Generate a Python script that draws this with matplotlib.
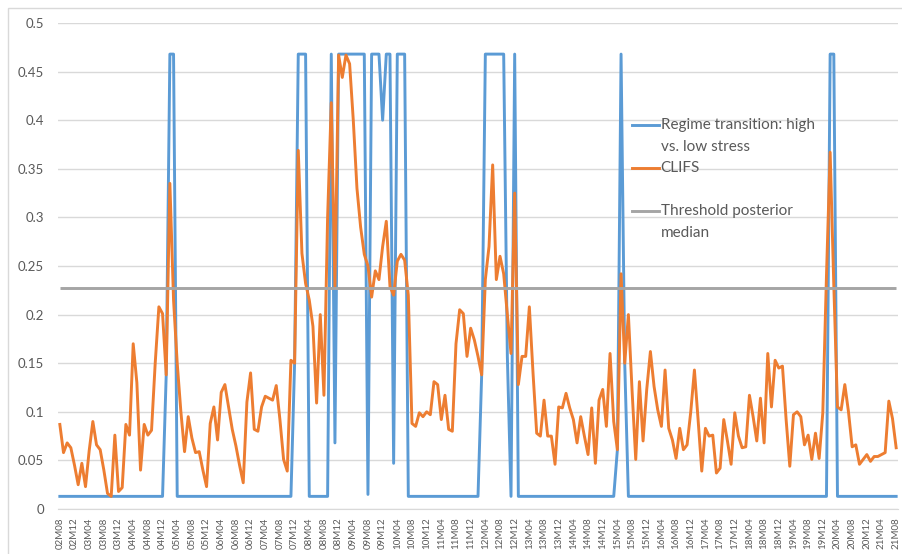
import matplotlib
matplotlib.use("Agg")
import matplotlib.pyplot as plt
from matplotlib.lines import Line2D
from matplotlib.legend_handler import HandlerLine2D
from matplotlib.patches import Rectangle

plt.rcParams['font.family'] = ['Lato', 'DejaVu Sans']

# monthly observations 2002M08 .. 2021M08, labelled every 4th month
tick_labels = [
    "02M08", "02M12",
    "03M04", "03M08", "03M12", "04M04", "04M08", "04M12", "05M04", "05M08", "05M12",
    "06M04", "06M08", "06M12", "07M04", "07M08", "07M12", "08M04", "08M08", "08M12",
    "09M04", "09M08", "09M12", "10M04", "10M08", "10M12", "11M04", "11M08", "11M12",
    "12M04", "12M08", "12M12", "13M04", "13M08", "13M12", "14M04", "14M08", "14M12",
    "15M04", "15M08", "15M12", "16M04", "16M08", "16M12", "17M04", "17M08", "17M12",
    "18M04", "18M08", "18M12", "19M04", "19M08", "19M12", "20M04", "20M08", "20M12",
    "21M04", "21M08",
]

clifs = [
    0.087, 0.058, 0.068, 0.063, 0.045, 0.025, 0.047, 0.023, 0.060, 0.090,
    0.066, 0.061, 0.040, 0.016, 0.013, 0.076, 0.018, 0.022, 0.087, 0.076,
    0.170, 0.130, 0.040, 0.087, 0.076, 0.081, 0.150, 0.208, 0.201, 0.138,
    0.335, 0.215, 0.150, 0.100, 0.059, 0.095, 0.073, 0.058, 0.059, 0.040,
    0.023, 0.088, 0.105, 0.071, 0.120, 0.128, 0.105, 0.082, 0.065, 0.045,
    0.027, 0.110, 0.140, 0.082, 0.080, 0.105, 0.116, 0.114, 0.112, 0.127,
    0.092, 0.051, 0.039, 0.153, 0.150, 0.369, 0.263, 0.232, 0.215, 0.188,
    0.109, 0.200, 0.117, 0.300, 0.418, 0.229, 0.467, 0.444, 0.467, 0.458,
    0.400, 0.330, 0.290, 0.262, 0.250, 0.218, 0.245, 0.236, 0.270, 0.296,
    0.229, 0.220, 0.255, 0.262, 0.256, 0.220, 0.088, 0.085, 0.099, 0.095,
    0.100, 0.097, 0.131, 0.128, 0.092, 0.117, 0.082, 0.080, 0.170, 0.205,
    0.201, 0.157, 0.186, 0.174, 0.157, 0.138, 0.236, 0.270, 0.354, 0.236,
    0.260, 0.242, 0.200, 0.160, 0.325, 0.128, 0.157, 0.157, 0.208, 0.140,
    0.078, 0.075, 0.112, 0.075, 0.075, 0.046, 0.105, 0.104, 0.119, 0.104,
    0.092, 0.068, 0.095, 0.075, 0.056, 0.104, 0.047, 0.112, 0.123, 0.085,
    0.160, 0.090, 0.061, 0.242, 0.150, 0.200, 0.122, 0.051, 0.131, 0.070,
    0.123, 0.162, 0.126, 0.102, 0.085, 0.143, 0.083, 0.071, 0.052, 0.083,
    0.061, 0.066, 0.100, 0.143, 0.092, 0.039, 0.083, 0.075, 0.076, 0.037,
    0.042, 0.092, 0.070, 0.046, 0.099, 0.075, 0.063, 0.064, 0.117, 0.095,
    0.070, 0.114, 0.068, 0.160, 0.105, 0.153, 0.145, 0.147, 0.092, 0.044,
    0.097, 0.100, 0.095, 0.066, 0.076, 0.051, 0.078, 0.052, 0.099, 0.240,
    0.367, 0.230, 0.105, 0.102, 0.128, 0.100, 0.064, 0.066, 0.046, 0.051,
    0.056, 0.049, 0.054, 0.054, 0.056, 0.058, 0.111, 0.093, 0.063,
]

H, L = 0.468, 0.013
regime = (
    [L] * 29 + [0.138, H, H] + [L] * 32 + [0.150, H, H, H] + [L] * 6
    + [H, 0.068] + [H] * 8 + [0.015, H, H, H, 0.400, H, H, 0.047, H, H, H]
    + [L] * 20 + [0.138] + [H] * 6 + [0.157, L, H] + [L] * 27
    + [0.061, H, 0.150] + [L] * 55 + [H, H] + [L] * 17
)

threshold_median = 0.227

y_ticks = [0, 0.05, 0.1, 0.15, 0.2, 0.25, 0.3, 0.35, 0.4, 0.45, 0.5]
y_tick_labels = ["0", "0.05", "0.1", "0.15", "0.2", "0.25", "0.3", "0.35", "0.4", "0.45", "0.5"]

BLUE = "#5B9BD5"
ORANGE = "#ED7D31"
GREY = "#A5A5A5"
TXT = "#595959"


class FirstLineHandler(HandlerLine2D):
    # put the key next to the first line of a two-line label, like Excel does
    def __init__(self, lift, **kw):
        super().__init__(**kw)
        self.lift = lift

    def create_artists(self, legend, orig_handle, xdescent, ydescent,
                       width, height, fontsize, trans):
        arts = super().create_artists(legend, orig_handle, xdescent, ydescent,
                                      width, height, fontsize, trans)
        for a in arts:
            a.set_ydata([y + self.lift * fontsize for y in a.get_ydata()])
        return arts


n = len(clifs)
x = list(range(n))

fig = plt.figure(figsize=(9.02, 5.54), dpi=100)
ax = fig.add_axes([58 / 902, 45 / 554, 840 / 902, 486 / 554])

l1, = ax.plot(x, regime, color=BLUE, lw=2.1)
l2, = ax.plot(x, clifs, color=ORANGE, lw=2.1)
ax.hlines(threshold_median, 0, n - 1, color=GREY, lw=2.1)
l3_key = Line2D([], [], color=GREY, lw=2.1)

ax.set_xlim(-0.5, n - 0.5)
ax.set_ylim(0, 0.5)
ax.set_yticks(y_ticks)
ax.set_yticklabels(y_tick_labels)
ax.set_xticks(x[::4])
ax.set_xticklabels(tick_labels, rotation=90)

ax.yaxis.grid(True, color="#D9D9D9", lw=1)
ax.set_axisbelow(True)
for s in ["left", "right", "top"]:
    ax.spines[s].set_visible(False)
ax.spines["bottom"].set_color("#D9D9D9")
ax.tick_params(axis="y", length=0, pad=10, labelsize=9.5, labelcolor=TXT)
ax.tick_params(axis="x", length=0, pad=6, labelsize=7, labelcolor=TXT)

leg = ax.legend(
    [l1, l2, l3_key],
    ["Regime transition: high\nvs. low stress", "CLIFS\n", "Threshold posterior\nmedian"],
    loc="upper left", bbox_to_anchor=(0.683, 0.805), frameon=False,
    fontsize=11, labelcolor=TXT, handlelength=1.8, handletextpad=0.1,
    labelspacing=0.42, borderpad=0, borderaxespad=0,
    handler_map={Line2D: FirstLineHandler(0.72)},
)
for t in leg.get_texts():
    t.set_linespacing(1.78)

# chart area border (partly cropped in the source image)
fig.patches.append(Rectangle((8 / 902, -0.1), 1.2, (554 - 8) / 554 + 0.1,
                             transform=fig.transFigure, fill=False,
                             edgecolor="#D9D9D9", lw=1))

fig.savefig("out.png", dpi=100)
